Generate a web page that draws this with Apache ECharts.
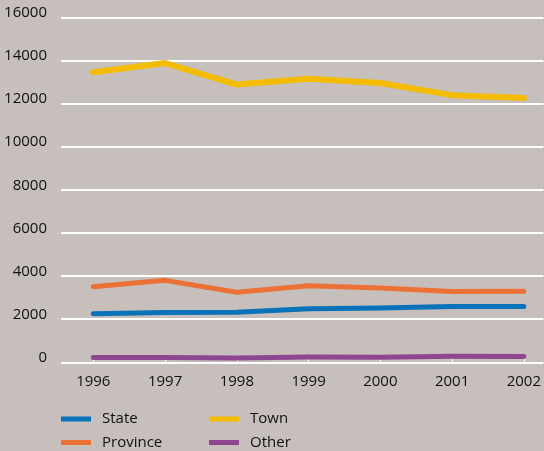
<!DOCTYPE html>
<html>
<head>
<meta charset="utf-8">
<script src="https://cdn.jsdelivr.net/npm/echarts@6/dist/echarts.min.js"></script>
<style>
  html, body { margin: 0; padding: 0; background: #c6bfbb; }
  #main { width: 544px; height: 451px; }
</style>
</head>
<body>
<div id="main"></div>
<script>
var years = [1996, 1997, 1998, 1999, 2000, 2001, 2002];
var yTicks = [0, 2000, 4000, 6000, 8000, 10000, 12000, 14000, 16000];
var stateValues = [2250, 2310, 2320, 2480, 2520, 2585, 2590];
var provinceValues = [3500, 3800, 3250, 3550, 3450, 3280, 3300];
var townValues = [13450, 13880, 12880, 13150, 12950, 12390, 12260];
var otherValues = [220, 220, 200, 250, 240, 280, 270];

var font = "'Open Sans', 'Liberation Sans', sans-serif";

function pairs(values) {
  return years.map(function (y, i) {
    return [y, values[i]];
  });
}

// one legend per item so the 2x2 layout is fixed
function legendItem(name, left, top) {
  return {
    data: [name],
    left: left,
    top: top,
    padding: 0,
    icon: 'rect',
    itemWidth: 30,
    itemHeight: 5,
    itemTextGap: 10,
    textStyle: {
      color: '#111',
      fontSize: 15,
      lineHeight: 18,
      fontFamily: font,
      padding: [0, 0, 0, 6]
    }
  };
}

var chart = echarts.init(document.getElementById('main'));
var option = {
  backgroundColor: '#c6bfbb',
  animation: false,
  textStyle: { fontFamily: font },
  grid: {
    left: 61,
    right: 0,
    top: 17.3,
    bottom: 88.7
  },
  xAxis: {
    type: 'value',
    min: 1995.55,
    max: 2002.274,
    axisLine: { show: false },
    splitLine: { show: false },
    axisTick: {
      show: true,
      inside: true,
      length: 4,
      customValues: years,
      lineStyle: { color: '#ffffff', width: 1 }
    },
    axisLabel: {
      customValues: years,
      margin: 12,
      color: '#111',
      fontSize: 15,
      fontFamily: font,
      formatter: function (v) { return String(v); }
    }
  },
  yAxis: {
    type: 'value',
    min: yTicks[0],
    max: yTicks[yTicks.length - 1],
    interval: 2000,
    axisLine: { show: false },
    axisTick: { show: false },
    splitLine: { lineStyle: { color: '#ffffff', width: 2 } },
    axisLabel: {
      margin: 14,
      color: '#111',
      fontSize: 15,
      fontFamily: font,
      verticalAlign: 'bottom',
      lineHeight: 9,
      formatter: function (v) { return String(v); }
    }
  },
  legend: [
    legendItem('State', 61, 410),
    legendItem('Province', 61, 433.5),
    legendItem('Town', 209, 410),
    legendItem('Other', 209, 433.5)
  ],
  series: [
    {
      name: 'State',
      type: 'line',
      showSymbol: false,
      color: '#0a72b8',
      lineStyle: { width: 5, cap: 'round', join: 'round' },
      data: pairs(stateValues)
    },
    {
      name: 'Province',
      type: 'line',
      showSymbol: false,
      color: '#ec7136',
      lineStyle: { width: 5, cap: 'round', join: 'round' },
      data: pairs(provinceValues)
    },
    {
      name: 'Town',
      type: 'line',
      showSymbol: false,
      color: '#f4bc00',
      lineStyle: { width: 6, cap: 'round', join: 'round' },
      data: pairs(townValues)
    },
    {
      name: 'Other',
      type: 'line',
      showSymbol: false,
      color: '#8e4692',
      lineStyle: { width: 5, cap: 'round', join: 'round' },
      data: pairs(otherValues)
    }
  ]
};
chart.setOption(option);
</script>
</body>
</html>
